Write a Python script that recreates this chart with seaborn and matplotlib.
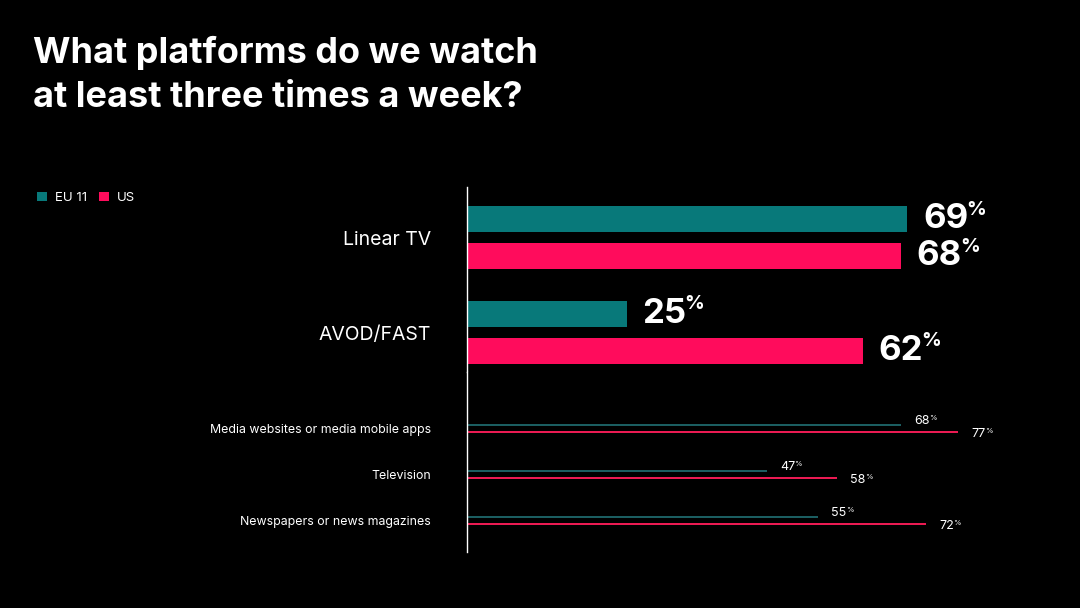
import pandas as pd
import matplotlib.pyplot as plt
import seaborn as sns

# data
regions = ["EU 11", "US"]
main_platforms = ["Linear TV", "AVOD/FAST"]
main_eu = [69, 25]
main_us = [68, 62]
other_platforms = [
    "Media websites or media mobile apps",
    "Television",
    "Newspapers or news magazines",
]
other_eu = [68, 47, 55]
other_us = [77, 58, 72]

TEAL = "#08797a"
PINK = "#ff0c5c"
TEAL_THIN = "#1b5e61"
PINK_THIN = "#ea1a52"
FONT = ["Inter", "DejaVu Sans"]


def long_frame(platforms, eu, us):
    return pd.DataFrame(
        {
            "platform": platforms * 2,
            "region": [regions[0]] * len(platforms) + [regions[1]] * len(platforms),
            "value": eu + us,
        }
    )


main_df = long_frame(main_platforms, main_eu, main_us)
other_df = long_frame(other_platforms, other_eu, other_us)

sns.set_style("dark")
plt.rcParams["font.family"] = FONT
plt.rcParams["text.color"] = "white"

W, H = 1080, 608
fig = plt.figure(figsize=(W / 100, H / 100), dpi=100, facecolor="black")

x0 = 467
xmax = (W - x0) / 6.38
ax_top = fig.add_axes([x0 / W, 1 - 372 / H, (W - x0) / W, 185 / H])
ax_bot = fig.add_axes([x0 / W, 1 - 552 / H, (W - x0) / W, 180 / H])

sns.barplot(
    data=main_df, y="platform", x="value", hue="region", orient="h",
    palette=[TEAL, PINK], width=0.78, gap=0.3, saturation=1,
    linewidth=0, edgecolor="none", ax=ax_top,
)
sns.barplot(
    data=other_df, y="platform", x="value", hue="region", orient="h",
    palette=[TEAL_THIN, PINK_THIN], width=0.33, gap=0.7, saturation=1,
    linewidth=0, edgecolor="none", legend=False, ax=ax_bot,
)

handles, labels = ax_top.get_legend_handles_labels()
ax_top.get_legend().remove()

ax_top.set_ylim(1.416, -0.537)
ax_bot.set_ylim(2.685, -1.228)

for ax, size in [(ax_top, 14), (ax_bot, 8.9)]:
    ax.set_facecolor("black")
    ax.set_xlim(0, xmax)
    ax.set_xlabel("")
    ax.set_ylabel("")
    ax.set_xticks([])
    ax.grid(False)
    for side in ["top", "right", "bottom"]:
        ax.spines[side].set_visible(False)
    ax.spines["left"].set_visible(True)
    ax.spines["left"].set_color("white")
    ax.spines["left"].set_linewidth(1)
    ax.tick_params(axis="y", length=0, pad=26, labelsize=size, labelcolor="white")

# value labels, big ones on the main rows
for container in ax_top.containers:
    for bar in container:
        val = bar.get_width()
        yc = bar.get_y() + bar.get_height() / 2
        num = ax_top.annotate(
            f"{val:.0f}", xy=(val, yc), xytext=(11.5, 0), textcoords="offset points",
            ha="left", va="center", fontsize=25, fontweight="bold", color="white",
        )
        ax_top.annotate(
            "%", xy=(1, 1), xycoords=num, xytext=(-1.5, 2), textcoords="offset points",
            ha="left", va="top", fontsize=14, fontweight="bold", color="white",
        )

# small labels on the thin rows
for i, container in enumerate(ax_bot.containers):
    dy = 2.5 if i == 0 else -1.5
    for bar in container:
        val = bar.get_width()
        yc = bar.get_y() + bar.get_height() / 2
        num = ax_bot.annotate(
            f"{val:.0f}", xy=(val, yc), xytext=(9.5, dy), textcoords="offset points",
            ha="left", va="center", fontsize=9, color="white",
        )
        ax_bot.annotate(
            "%", xy=(1, 1), xycoords=num, xytext=(-0.5, 0), textcoords="offset points",
            ha="left", va="top", fontsize=5.5, color="white",
        )

fig.legend(
    handles, labels, loc="center left", bbox_to_anchor=(37 / W, 1 - 198 / H),
    ncol=2, frameon=False, fontsize=9.5, labelcolor="white",
    handlelength=0.75, handleheight=0.75, handletextpad=0.6, columnspacing=0.9,
    borderpad=0, borderaxespad=0,
)

fig.text(
    33 / W, 1 - 36 / H, "What platforms do we watch\nat least three times a week?",
    ha="left", va="top", fontsize=26, fontweight="bold", color="white",
    linespacing=1.4,
)

fig.savefig("out.png", dpi=100, facecolor="black")
